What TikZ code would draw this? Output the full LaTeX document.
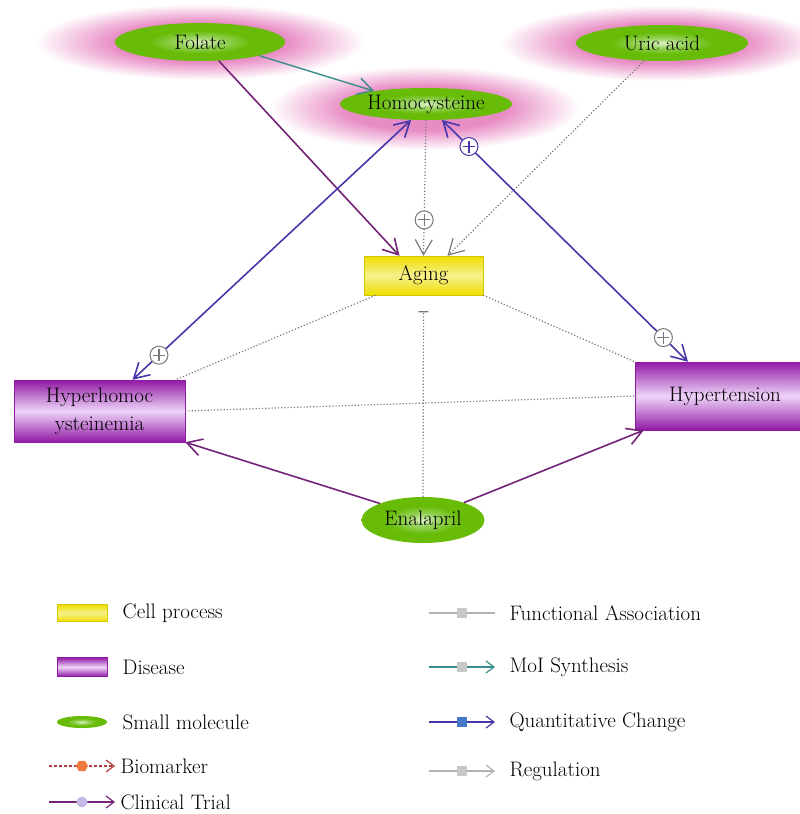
\documentclass[tikz,border=0pt]{standalone}
\usetikzlibrary{shapes.geometric,arrows.meta,positioning}

\definecolor{glowpink}{RGB}{232,140,196}
\definecolor{leafgreen}{RGB}{104,188,8}
\definecolor{leafmid}{RGB}{150,210,90}
\definecolor{leaflight}{RGB}{215,240,190}
\definecolor{cellyellow}{RGB}{238,222,0}
\definecolor{diseasepurple}{RGB}{145,25,165}
\definecolor{diseaselight}{RGB}{238,212,248}
\definecolor{trialpurple}{RGB}{115,35,120}
\definecolor{quantblue}{RGB}{70,55,170}
\definecolor{synthteal}{RGB}{60,140,140}
\definecolor{assocgray}{RGB}{120,120,120}
\definecolor{markgray}{RGB}{200,200,200}
\definecolor{bioorange}{RGB}{240,120,60}
\definecolor{biored}{RGB}{180,60,60}
\definecolor{triallilac}{RGB}{195,185,230}
\definecolor{quantsquare}{RGB}{70,120,200}

\pgfdeclareradialshading{glow}{\pgfpoint{0bp}{0bp}}{color(0bp)=(glowpink); color(13bp)=(glowpink); color(25bp)=(white); color(50bp)=(white)}
\pgfdeclareradialshading{leaf}{\pgfpoint{0bp}{0bp}}{color(0bp)=(leaflight); color(7bp)=(leafmid); color(15bp)=(leafgreen); color(50bp)=(leafgreen)}

\tikzset{
  molecule/.style={ellipse, shading=leaf, inner sep=0pt},
  process/.style={rectangle, top color=cellyellow, bottom color=cellyellow, middle color=cellyellow!45!white, draw=cellyellow!90!black, inner sep=0pt},
  disease/.style={rectangle, top color=diseasepurple, bottom color=diseasepurple, middle color=diseaselight, draw=diseasepurple, inner sep=0pt},
  barb/.tip={Straight Barb[length=15pt,width=17pt]},
  dotline/.style={assocgray, dotted, line width=1.2pt},
  regline/.style={dotline, -barb},
  trial/.style={trialpurple, line width=1.6pt, -barb},
  synth/.style={synthteal, line width=1.4pt, -barb},
  quant/.style={quantblue, line width=1.6pt, barb-barb},
  plusmark/.style={circle, solid, draw, fill=white, line width=1pt, inner sep=0pt, minimum size=18pt,
    path picture={\draw[line width=1.1pt, arrows=-] ([xshift=-6pt]path picture bounding box.center) -- ([xshift=6pt]path picture bounding box.center)
      ([yshift=-6pt]path picture bounding box.center) -- ([yshift=6pt]path picture bounding box.center);}},
  legline/.style={line width=1.2pt}
}

\begin{document}
\begin{tikzpicture}[x=1pt, y=-1pt, font=\fontsize{21}{25}\selectfont]
    \useasboundingbox (0,0) rectangle (800,814);
    % Draw the glow behind the molecules
    \shade[shading=glow] (200,42) ellipse [x radius=165, y radius=38];
    \shade[shading=glow] (660,43) ellipse [x radius=160, y radius=38];
    \shade[shading=glow] (425,108) ellipse [x radius=155, y radius=42];
    % Draw the entities
    \node[molecule, minimum width=170pt, minimum height=38pt] (fol) at (200,42) {Folate};
    \node[molecule, minimum width=172pt, minimum height=36pt] (uric) at (662,43) {Uric acid};
    \node[molecule, minimum width=172pt, minimum height=32pt] (hcy) at (426,104) {Homocysteine};
    \node[process, minimum width=119pt, minimum height=39pt] (aging) at (423.5,275.5) {Aging};
    \node[disease, minimum width=171pt, minimum height=62pt, align=center, font=\fontsize{21}{28}\selectfont] (hhc) at (99.5,411) {Hyperhomoc\\ysteinemia};
    \node[disease, minimum width=180pt, minimum height=68pt] (hyp) at (725,396) {Hypertension};
    \node[molecule, minimum width=123pt, minimum height=46pt] (enal) at (423,520) {Enalapril};
    % Draw the relations
    \draw[synth] (fol.-13) -- (hcy.166);
    \draw[trial] (fol.-45) -- ([xshift=-24pt]aging.north);
    \draw[regline] (uric.-135) -- ([xshift=24pt]aging.north);
    \draw[regline] (hcy.south) -- (aging.north) node[assocgray, plusmark, pos=0.735] (hcyplus) {};
    \draw[quant] ([xshift=33pt]hhc.north) -- (hcy.-133) node[assocgray, plusmark, pos=0.095] (hhcplus) {};
    \draw[quant] (hcy.-45) -- ([xshift=-37pt]hyp.north) node[plusmark, pos=0.11] (hypplusa) {} node[assocgray, plusmark, pos=0.9] (hypplusb) {};
    \draw[dotline] ([xshift=-48pt]aging.south) -- ([xshift=76pt]hhc.north);
    \draw[dotline] (aging.south east) -- (hyp.north west);
    \draw[dotline] (hhc.east) -- (hyp.west);
    \draw[dotline, -{Bar[width=10pt]}, shorten >=16pt] (enal.north) -- (aging.south);
    \draw[trial] (enal.159) -- (hhc.south east);
    \draw[trial] (enal.23) -- ([xshift=9pt]hyp.south west);
    % Draw the legend of the entities
    \node[process, minimum width=50pt, minimum height=17pt] (legcell) at (82,613) {};
    \node[right=12pt of legcell] (legcelltext) {Cell process};
    \node[disease, minimum width=50pt, minimum height=19pt] (legdis) at (82,667) {};
    \node[right=12pt of legdis] (legdistext) {Disease};
    \node[molecule, minimum width=50pt, minimum height=12pt] (legmol) at (82,722) {};
    \node[right=12pt of legmol] (legmoltext) {Small molecule};
    % Draw the legend of the relations
    \coordinate (bioa) at (49,766);  \coordinate (biob) at (115,766);
    \draw[legline, biored, densely dashed, -{Straight Barb[length=8pt,width=12pt]}] (bioa) -- (biob)
        node[midway, regular polygon, regular polygon sides=6, solid, fill=bioorange, inner sep=0pt, minimum size=12pt] (biodot) {};
    \node[right=2pt of biob] (biotext) {Biomarker};
    \coordinate (triala) at (49,802);  \coordinate (trialb) at (115,802);
    \draw[legline, trialpurple, -{Straight Barb[length=8pt,width=12pt]}] (triala) -- (trialb)
        node[midway, circle, fill=triallilac, inner sep=0pt, minimum size=11pt] (trialdot) {};
    \node[right=2pt of trialb] (trialtext) {Clinical Trial};
    \coordinate (assoca) at (429,613);  \coordinate (assocb) at (495,613);
    \draw[legline, markgray!70!gray] (assoca) -- (assocb)
        node[midway, rectangle, fill=markgray, inner sep=0pt, minimum size=10pt] (assocdot) {};
    \node[right=11pt of assocb] (assoctext) {Functional Association};
    \coordinate (syntha) at (429,667);  \coordinate (synthb) at (495,667);
    \draw[legline, synthteal, -{Straight Barb[length=8pt,width=12pt]}] (syntha) -- (synthb)
        node[midway, rectangle, fill=markgray, inner sep=0pt, minimum size=10pt] (synthdot) {};
    \node[right=11pt of synthb] (synthtext) {MoI Synthesis};
    \coordinate (quanta) at (429,722);  \coordinate (quantb) at (495,722);
    \draw[legline, quantblue, -{Straight Barb[length=8pt,width=12pt]}] (quanta) -- (quantb)
        node[midway, rectangle, fill=quantsquare, inner sep=0pt, minimum size=10pt] (quantdot) {};
    \node[right=11pt of quantb] (quanttext) {Quantitative Change};
    \coordinate (rega) at (429,771);  \coordinate (regb) at (495,771);
    \draw[legline, markgray!70!gray, -{Straight Barb[length=8pt,width=12pt]}] (rega) -- (regb)
        node[midway, rectangle, fill=markgray, inner sep=0pt, minimum size=10pt] (regdot) {};
    \node[right=11pt of regb] (regtext) {Regulation};
\end{tikzpicture}
\end{document}
